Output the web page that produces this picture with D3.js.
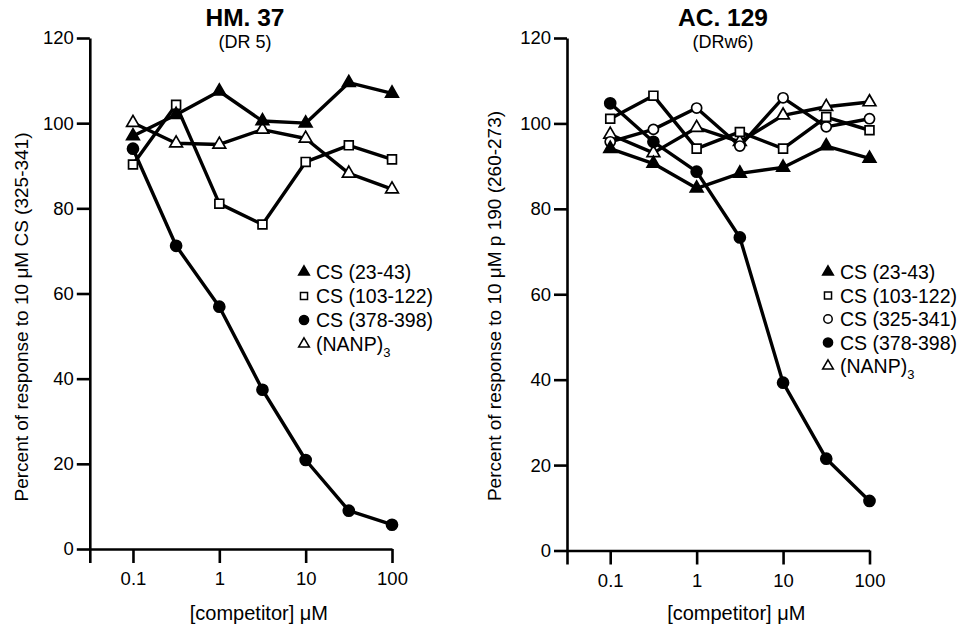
<!DOCTYPE html>
<html>
<head>
<meta charset="utf-8">
<script src="https://cdn.jsdelivr.net/npm/d3@7"></script>
<style>
  body { margin: 0; background: #fff; }
  svg { display: block; }
  text { font-family: "Liberation Sans", Arial, Helvetica, sans-serif; fill: #000; }
</style>
</head>
<body>
<svg id="chart" width="962" height="627"></svg>
<script>
// competitor concentrations (µM), half-log steps
var conc = [0.1, 0.316, 1, 3.16, 10, 31.6, 100]
var xTicks = [0.1, 1, 10, 100]
var yTicks = [0, 20, 40, 60, 80, 100, 120]

// HM. 37 (DR 5)
var hm_cs23 = [97, 102, 107.5, 100.5, 100, 109.5, 107]
var hm_cs103 = [90.3, 104.3, 81.1, 76.2, 90.9, 94.8, 91.5]
var hm_cs378 = [94, 71.2, 56.9, 37.4, 20.9, 9, 5.7]
var hm_nanp = [100.1, 95.3, 95, 98.5, 96.4, 88.2, 84.5]

// AC. 129 (DRw6)
var ac_cs23 = [94.1, 90.6, 84.8, 88.3, 89.7, 94.7, 91.8]
var ac_cs103 = [101.1, 106.5, 94.1, 98, 94.1, 101.5, 98.4]
var ac_cs325 = [95.7, 98.6, 103.6, 94.7, 106, 99.2, 101.1]
var ac_cs378 = [104.7, 95.7, 88.7, 73.3, 39.3, 21.5, 11.6]
var ac_nanp = [97.4, 93.1, 99, 95.7, 101.9, 103.9, 105]

var svg = d3.select("#chart")

var marks = {
  triFill:  {type: d3.symbolTriangle, fill: "#000", size: 70, legSize: 50},
  square:   {type: d3.symbolSquare,   fill: "#fff", size: 78, legSize: 50},
  circle:   {type: d3.symbolCircle,   fill: "#fff", size: 80, legSize: 56},
  dot:      {type: d3.symbolCircle,   fill: "#000", size: 95, legSize: 66},
  triOpen:  {type: d3.symbolTriangle, fill: "#fff", size: 70, legSize: 50}
}

var panels = [
  {
    x0: 89.8, x1: 392, yTop: 38, yBot: 549,
    title: "HM. 37", sub: "(DR 5)", cx: 245,
    ylabel: "Percent of response to 10 μM CS (325-341)", ylabX: 21, ylabY: 317,
    legX: 304, legY: 272, legStep: 24,
    series: [
      {name: "CS (23-43)", mark: "triFill", values: hm_cs23},
      {name: "CS (103-122)", mark: "square", values: hm_cs103},
      {name: "CS (378-398)", mark: "dot", values: hm_cs378},
      {name: "(NANP)", sub: "3", mark: "triOpen", values: hm_nanp}
    ],
    order: [3, 1, 0, 2]
  },
  {
    x0: 567, x1: 869.5, yTop: 38, yBot: 550.5,
    title: "AC. 129", sub: "(DRw6)", cx: 723,
    ylabel: "Percent of response to 10 μM p 190 (260-273)", ylabX: 494, ylabY: 306,
    legX: 828, legY: 272, legStep: 23.5,
    series: [
      {name: "CS (23-43)", mark: "triFill", values: ac_cs23},
      {name: "CS (103-122)", mark: "square", values: ac_cs103},
      {name: "CS (325-341)", mark: "circle", values: ac_cs325},
      {name: "CS (378-398)", mark: "dot", values: ac_cs378},
      {name: "(NANP)", sub: "3", mark: "triOpen", values: ac_nanp}
    ],
    order: [4, 2, 1, 0, 3]
  }
]

panels.forEach(function(p) {
  var x = d3.scaleLog().domain([Math.pow(10, -1.5), 100]).range([p.x0, p.x1])
  var y = d3.scaleLinear().domain([0, 120]).range([p.yBot, p.yTop])
  var g = svg.append("g")

  // titles
  g.append("text").attr("x", p.cx).attr("y", 26).attr("text-anchor", "middle")
    .attr("font-size", 24.5).attr("font-weight", "bold").text(p.title)
  g.append("text").attr("x", p.cx).attr("y", 48).attr("text-anchor", "middle")
    .attr("font-size", 18).text(p.sub)

  // y axis
  var ya = g.append("g").attr("transform", "translate(" + p.x0 + ",0)")
    .call(d3.axisLeft(y).tickValues(yTicks).tickSize(13).tickPadding(3).tickSizeOuter(0))
  ya.selectAll("text").attr("font-size", 18.5).attr("font-family", "Liberation Sans, Arial, sans-serif")

  // x axis (extra unlabeled tick at the left end)
  var xa = g.append("g").attr("transform", "translate(0," + p.yBot + ")")
    .call(d3.axisBottom(x).tickValues([Math.pow(10, -1.5)].concat(xTicks)).tickSize(14).tickPadding(9)
      .tickSizeOuter(0).tickFormat(function(d) { return d < 0.05 ? "" : d3.format("~g")(d) }))
  xa.selectAll("text").attr("font-size", 18.5).attr("font-family", "Liberation Sans, Arial, sans-serif")

  svg.selectAll(".domain, .tick line").attr("stroke", "#000").attr("stroke-width", 2.6)

  // axis titles
  g.append("text").attr("transform", "translate(" + p.ylabX + "," + p.ylabY + ") rotate(-90)")
    .attr("text-anchor", "middle").attr("dy", "0.35em").attr("font-size", 19).text(p.ylabel)
  g.append("text").attr("x", (p.x0 + p.x1) / 2 + 18).attr("y", 620).attr("text-anchor", "middle")
    .attr("font-size", 20).text("[competitor] μM")

  // series lines then markers
  var line = d3.line().x(function(d, i) { return x(conc[i]) }).y(function(d) { return y(d) })
  p.order.forEach(function(k) {
    var s = p.series[k]
    g.append("path").datum(s.values).attr("d", line)
      .attr("fill", "none").attr("stroke", "#000").attr("stroke-width", 3.4).attr("stroke-linejoin", "round")
  })
  p.order.forEach(function(k) {
    var s = p.series[k], m = marks[s.mark]
    g.selectAll(null).data(s.values).enter().append("path")
      .attr("transform", function(d, i) { return "translate(" + x(conc[i]) + "," + y(d) + ")" })
      .attr("d", d3.symbol().type(m.type).size(m.size))
      .attr("fill", m.fill).attr("stroke", "#000").attr("stroke-width", 1.7)
  })

  // legend
  p.series.forEach(function(s, i) {
    var m = marks[s.mark], ly = p.legY + i * p.legStep
    g.append("path").attr("transform", "translate(" + p.legX + "," + ly + ")")
      .attr("d", d3.symbol().type(m.type).size(m.legSize))
      .attr("fill", m.fill).attr("stroke", "#000").attr("stroke-width", 1.5)
    var t = g.append("text").attr("x", p.legX + 12).attr("y", ly).attr("dy", "0.36em")
      .attr("font-size", 19.5).text(s.name)
    if (s.sub) t.append("tspan").attr("font-size", 13).attr("dy", 6).text(s.sub)
  })
})
</script>
</body>
</html>
